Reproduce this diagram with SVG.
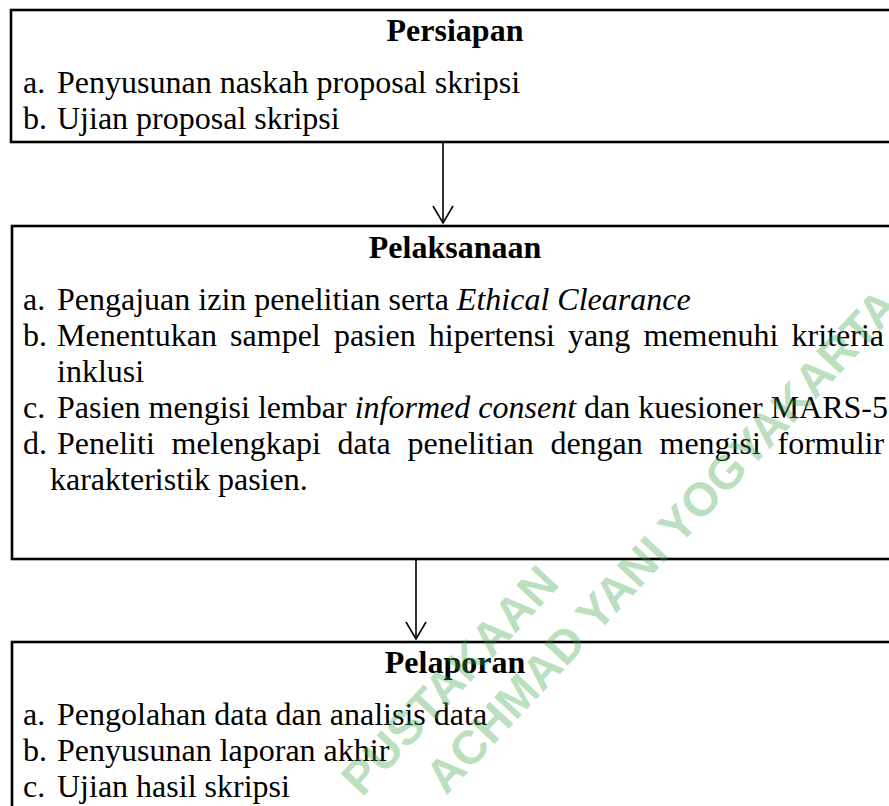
<svg xmlns="http://www.w3.org/2000/svg" width="889" height="806" viewBox="0 0 889 806">
<defs>
<style>
.box{fill:#fff;stroke:#000;stroke-width:2.6}
.t{font-family:"Liberation Serif","Times New Roman",serif;font-size:32px;fill:#000}
.h{font-family:"Liberation Serif","Times New Roman",serif;font-size:32px;font-weight:bold;fill:#000;text-anchor:middle}
.i{font-style:italic}
.conn{stroke:#000;stroke-width:1.6;fill:none}
.wm{font-family:"Liberation Sans",Arial,sans-serif;font-weight:bold;font-size:47px;fill:#3aa346;fill-opacity:0.35}
</style>
<marker id="arr" markerWidth="24" markerHeight="24" viewBox="-20 -12 24 24" refX="0" refY="0" orient="auto" markerUnits="userSpaceOnUse">
<path d="M-17,-10 L0,0 L-17,10" fill="none" stroke="#000" stroke-width="1.6"/>
</marker>
</defs>
<g id="persiapan">
<rect class="box" x="11" y="10" width="900" height="132"/>
<text class="h" x="455" y="41">Persiapan</text>
<text class="t" x="23" y="93">a.</text><text class="t" x="57" y="93">Penyusunan naskah proposal skripsi</text>
<text class="t" x="23" y="129">b.</text><text class="t" x="57" y="129">Ujian proposal skripsi</text>
</g>
<g id="pelaksanaan">
<rect class="box" x="12" y="226" width="900" height="333"/>
<text class="h" x="455" y="258">Pelaksanaan</text>
<text class="t" x="23" y="310">a.</text><text class="t" x="57" y="310">Pengajuan izin penelitian serta <tspan class="i">Ethical Clearance</tspan></text>
<text class="t" y="346"><tspan x="23">b.</tspan><tspan x="57">Menentukan</tspan><tspan x="230.1">sampel</tspan><tspan x="333.9">pasien</tspan><tspan x="428.8">hipertensi</tspan><tspan x="568.1">yang</tspan><tspan x="643.4">memenuhi</tspan><tspan x="791.6">kriteria</tspan></text>
<text class="t" x="57" y="382">inklusi</text>
<text class="t" x="23" y="418">c.</text><text class="t" x="57" y="418">Pasien mengisi lembar <tspan class="i">informed consent</tspan> dan kuesioner MARS-5</text>
<text class="t" y="454"><tspan x="23">d.</tspan><tspan x="57">Peneliti</tspan><tspan x="171.5">melengkapi</tspan><tspan x="337.5">data</tspan><tspan x="407.5">penelitian</tspan><tspan x="550.4">dengan</tspan><tspan x="659.5">mengisi</tspan><tspan x="777.5">formulir</tspan></text>
<text class="t" x="50" y="490">karakteristik pasien.</text>
</g>
<g id="pelaporan">
<rect class="box" x="12" y="642" width="900" height="200"/>
<text class="h" x="455" y="673">Pelaporan</text>
<text class="t" x="23" y="725">a.</text><text class="t" x="57" y="725">Pengolahan data dan analisis data</text>
<text class="t" x="23" y="761">b.</text><text class="t" x="57" y="761">Penyusunan laporan akhir</text>
<text class="t" x="23" y="797">c.</text><text class="t" x="57" y="797">Ujian hasil skripsi</text>
</g>
<g id="connectors">
<line class="conn" x1="443" y1="142" x2="443" y2="223" marker-end="url(#arr)"/>
<line class="conn" x1="416" y1="559" x2="416" y2="639" marker-end="url(#arr)"/>
</g>
<g id="watermark">
<text class="wm" transform="translate(362,798) rotate(-47)">PUSTAKAAN</text>
<text class="wm" transform="translate(446,796) rotate(-47)">ACHMAD YANI YOGYAKARTA</text>
</g>
</svg>
